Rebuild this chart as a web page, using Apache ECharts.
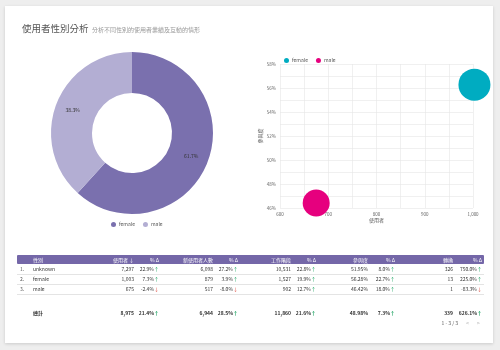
<!DOCTYPE html>
<html><head><meta charset="utf-8">
<script src="https://cdn.jsdelivr.net/npm/echarts@6/dist/echarts.min.js"></script>
<style>
html,body{margin:0;padding:0;width:500px;height:350px;background:#eeeeee;overflow:hidden;font-family:"Noto Sans CJK TC","Noto Sans",sans-serif;}
#card{position:absolute;left:5px;top:6px;width:488px;height:337px;background:#fff;box-shadow:0 1px 3px rgba(0,0,0,0.15);}
#chart{position:absolute;left:0;top:0;width:500px;height:350px;}
.t{position:absolute;white-space:nowrap;font-size:5px;line-height:6px;color:#333;}
.r{text-align:right;}
</style></head>
<body>
<div id="card"></div>
<div id="chart"></div>
<div id="tbl"></div>
<script>
// ---- data ----
const genders = ['female', 'male'];
const genderShare = [61.7, 38.3];
const scatterUsers = [1003, 675];
const scatterEngagement = [56.28, 46.42];
const xTicks = [600, 700, 800, 900, 1000];
const yTicks = [46, 48, 50, 52, 54, 56, 58];

const tableHeaders = ['性別', '使用者 ↓', '% Δ', '新使用者人數', '% Δ', '工作階段', '% Δ', '參與度', '% Δ', '轉換', '% Δ'];
const rowNames = ['unknown', 'female', 'male'];
const users = ['7,297', '1,003', '675'];
const usersDelta = [22.9, 7.3, -2.4];
const newUsers = ['6,098', '879', '517'];
const newUsersDelta = [27.2, 3.9, -8.0];
const sessions = ['10,531', '1,527', '902'];
const sessionsDelta = [22.8, 19.9, 12.7];
const engagement = ['51.95%', '56.28%', '46.42%'];
const engagementDelta = [8.0, 22.7, 18.0];
const conversions = ['326', '13', '1'];
const conversionsDelta = [750.0, 225.0, -83.3];
const totalRow = ['總計', '8,975', 21.4, '6,944', 28.5, '11,860', 21.6, '48.98%', 7.3, '339', 626.1];

// ---- styles ----
const pieColors = {female: '#7a70ae', male: '#b3aed3'};
const dotColors = {female: '#00acc1', male: '#e6007e'};
const bubbleSize = {female: 32, male: 27};
const font = '"Noto Sans CJK TC","Noto Sans",sans-serif';

const chart = echarts.init(document.getElementById('chart'), null, {renderer: 'canvas'});
chart.setOption({
  animation: false,
  textStyle: {fontFamily: font},
  title: [
    {
      text: '使用者性別分析', left: 17, top: 19,
      textStyle: {fontSize: 9.5, color: '#555', fontWeight: 'normal', fontFamily: font}
    },
    {
      text: '分析不同性別的使用者業績及互動的情形', left: 87, top: 22,
      textStyle: {fontSize: 6, color: '#999', fontWeight: 'normal', fontFamily: font}
    }
  ],
  legend: [
    {
      data: genders.map(g => ({name: g, itemStyle: {color: pieColors[g]}, icon: 'circle'})),
      left: 106, top: 217, itemWidth: 5, itemHeight: 5, itemGap: 8,
      textStyle: {fontSize: 5, color: '#555', padding: [0, 0, 0, -2]}
    },
    {
      data: genders.map(g => ({name: g, itemStyle: {color: dotColors[g]}, icon: 'circle'})),
      left: 279, top: 53, itemWidth: 5, itemHeight: 5, itemGap: 8,
      textStyle: {fontSize: 5, color: '#555', padding: [0, 0, 0, -2]}
    }
  ],
  grid: {left: 280, right: 27, top: 64, bottom: 142},
  xAxis: {
    type: 'value', min: xTicks[0], max: xTicks[xTicks.length - 1], interval: 100,
    name: '使用者', nameLocation: 'middle', nameGap: 10,
    nameTextStyle: {fontSize: 5, color: '#555'},
    axisLine: {show: false}, axisTick: {show: false},
    axisLabel: {fontSize: 4.5, color: '#666', margin: 4, formatter: v => v.toLocaleString('en-US')},
    splitLine: {lineStyle: {color: '#e6e6e6', width: 0.6}},
    minorTick: {show: false, splitNumber: 2},
    minorSplitLine: {show: true, lineStyle: {color: '#e6e6e6', width: 0.6}}
  },
  yAxis: {
    type: 'value', min: yTicks[0], max: yTicks[yTicks.length - 1], interval: 2,
    name: '參與度', nameLocation: 'middle', nameGap: 14, nameRotate: 90,
    nameTextStyle: {fontSize: 5, color: '#555'},
    axisLine: {show: false}, axisTick: {show: false},
    axisLabel: {fontSize: 4.5, color: '#666', margin: 4, formatter: '{value}%'},
    splitLine: {lineStyle: {color: '#e6e6e6', width: 0.6}},
    minorTick: {show: false, splitNumber: 2},
    minorSplitLine: {show: true, lineStyle: {color: '#e6e6e6', width: 0.6}}
  },
  series: [
    {
      type: 'pie', center: [132, 133], radius: [40, 81], startAngle: 90, clockwise: true,
      data: genders.map((g, i) => ({name: g, value: genderShare[i], itemStyle: {color: pieColors[g]}})),
      label: {position: 'inside', formatter: p => p.value.toFixed(1) + '%', fontSize: 5, color: '#333'},
      labelLine: {show: false}, emphasis: {disabled: true}
    },
    ...genders.map((g, i) => ({
      type: 'scatter', name: g, clip: false,
      data: [[scatterUsers[i], scatterEngagement[i]]],
      symbolSize: bubbleSize[g],
      itemStyle: {color: dotColors[g], opacity: 1}
    }))
  ]
});

// ---- table (HTML text) ----
const tbl = document.getElementById('tbl');
function cell(txt, x, y, opts) {
  const d = document.createElement('div');
  d.className = 't' + (opts && opts.right ? ' r' : '');
  d.innerHTML = txt;
  if (opts && opts.right) { d.style.right = (500 - x) + 'px'; } else { d.style.left = x + 'px'; }
  d.style.top = (y - 3) + 'px';
  if (opts && opts.color) d.style.color = opts.color;
  if (opts && opts.bold) d.style.fontWeight = 'bold';
  tbl.appendChild(d);
}
function delta(v) {
  const up = v >= 0;
  return v.toFixed(1) + '%<span style="color:' + (up ? '#0f9d58' : '#db4437') + '">' + (up ? '↑' : '↓') + '</span>';
}
// header bar
const hb = document.createElement('div');
hb.style.cssText = 'position:absolute;left:17px;top:255px;width:467px;height:9px;background:#7467a8;border-radius:1px;';
tbl.appendChild(hb);
const colRight = [null, 134, 159, 213, 238, 291, 316, 368, 395, 453, 482];
tableHeaders.forEach((h, i) => {
  if (i === 0) cell(h, 33, 260, {color: '#fff'});
  else cell(h, colRight[i], 260, {right: true, color: '#fff'});
});
const rowY = [269, 279, 289];
rowNames.forEach((n, r) => {
  const y = rowY[r];
  cell((r + 1) + '.', 20, y, {color: '#555'});
  cell(n, 33, y);
  const vals = [users[r], delta(usersDelta[r]), newUsers[r], delta(newUsersDelta[r]), sessions[r], delta(sessionsDelta[r]),
    engagement[r], delta(engagementDelta[r]), conversions[r], delta(conversionsDelta[r])];
  vals.forEach((v, i) => cell(v, colRight[i + 1], y, {right: true}));
  const ln = document.createElement('div');
  ln.style.cssText = 'position:absolute;left:17px;width:467px;height:0;border-top:0.5px solid #e4e4e4;top:' + (y + 5) + 'px;';
  tbl.appendChild(ln);
});
cell(totalRow[0], 33, 313, {bold: true});
totalRow.slice(1).forEach((v, i) => {
  cell(typeof v === 'number' ? delta(v) : v, colRight[i + 1], 313, {right: true, bold: true});
});
cell('1 - 3 / 3', 458, 323, {right: true, color: '#555'});
cell('&lt;', 466, 323, {color: '#999'});
cell('&gt;', 477, 323, {color: '#999'});
</script>
</body></html>
